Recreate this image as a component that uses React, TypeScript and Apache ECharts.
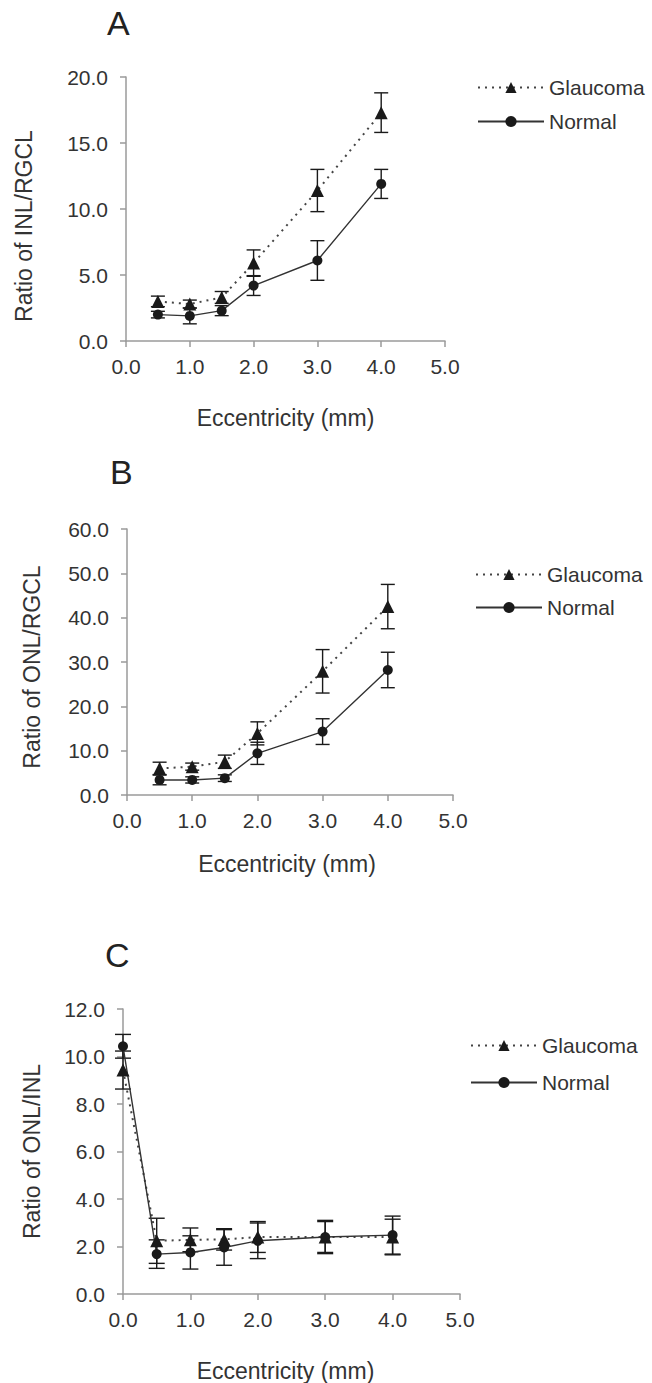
import React, { useEffect, useRef } from "react";
import * as echarts from "echarts";

// ---------- data ----------
const eccAB = [0.5, 1, 1.5, 2, 3, 4];
const eccC = [0, 0.5, 1, 1.5, 2, 3, 4];

const glaucomaA = [3.0, 2.8, 3.3, 5.9, 11.4, 17.3];
const glaucomaErrA = [0.4, 0.3, 0.45, 1.0, 1.6, 1.5];
const normalA = [2.0, 1.9, 2.3, 4.2, 6.1, 11.9];
const normalErrA = [0.25, 0.6, 0.38, 0.75, 1.5, 1.1];

const glaucomaB = [6.0, 6.4, 7.5, 13.9, 27.9, 42.5];
const glaucomaErrB = [1.4, 0.8, 1.5, 2.6, 4.9, 5.0];
const normalB = [3.4, 3.4, 3.8, 9.4, 14.3, 28.2];
const normalErrB = [1.1, 0.7, 0.75, 2.5, 2.9, 4.0];

const glaucomaC = [9.43, 2.24, 2.28, 2.3, 2.4, 2.4, 2.4];
const glaucomaErrC = [0.8, 0.95, 0.5, 0.45, 0.65, 0.7, 0.75];
const normalC = [10.43, 1.68, 1.75, 1.96, 2.24, 2.4, 2.48];
const normalErrC = [0.5, 0.6, 0.7, 0.75, 0.75, 0.65, 0.8];

const panelLetters = ["A", "B", "C"];
const yTitles = ["Ratio of INL/RGCL", "Ratio of ONL/RGCL", "Ratio of ONL/INL"];
const xTitle = "Eccentricity (mm)";
const seriesNames = ["Glaucoma", "Normal"];
const yMaxes = [20, 60, 12];
const yIntervals = [5, 10, 2];
const xMax = 5;
const xInterval = 1;

// ---------- layout ----------
const grids = [
  { left: 126, top: 77, width: 319, height: 264 },
  { left: 127, top: 529, width: 326, height: 266 },
  { left: 123, top: 1009, width: 337, height: 286 },
];
const letterPos = [
  { left: 107, top: 6 },
  { left: 110, top: 455 },
  { left: 105, top: 938 },
];
const legendPos = [
  { left: 477, top: 77 },
  { left: 475, top: 564 },
  { left: 470, top: 1035 },
];
const legendGap = [13, 12, 16];
const yNameGap = [91, 84, 80];
const yNamePad = [
  [0, 34, 0, 0],
  [0, 10, 0, 0],
  [0, 0, 0, 0],
];
const xNameGap = [65, 57, 65];
const xNamePad = [
  [0, 0, 0, 0],
  [0, 6, 0, 0],
  [0, 12, 0, 0],
];
const capHalf = [7, 7, 8];

const FONT = "'Liberation Sans', Arial, sans-serif";
const TEXT = "#333";
const AXIS = "#9a9a9a";
const INK = "#1a1a1a";

const panels = [
  { x: eccAB, g: glaucomaA, ge: glaucomaErrA, n: normalA, ne: normalErrA },
  { x: eccAB, g: glaucomaB, ge: glaucomaErrB, n: normalB, ne: normalErrB },
  { x: eccC, g: glaucomaC, ge: glaucomaErrC, n: normalC, ne: normalErrC },
];

function errSeries(i: number, xs: number[], vals: number[], errs: number[]) {
  const half = capHalf[i];
  return {
    type: "custom",
    xAxisIndex: i,
    yAxisIndex: i,
    silent: true,
    z: 3,
    data: xs.map((x, j) => [x, vals[j] - errs[j], vals[j] + errs[j]]),
    encode: { x: 0, y: [1, 2] },
    renderItem: (_p: any, api: any) => {
      const x = api.value(0);
      const lo = api.coord([x, api.value(1)]);
      const hi = api.coord([x, api.value(2)]);
      const st = { stroke: INK, lineWidth: 1.4 };
      return {
        type: "group",
        children: [
          { type: "line", shape: { x1: hi[0], y1: hi[1], x2: lo[0], y2: lo[1] }, style: st },
          { type: "line", shape: { x1: hi[0] - half, y1: hi[1], x2: hi[0] + half, y2: hi[1] }, style: st },
          { type: "line", shape: { x1: lo[0] - half, y1: lo[1], x2: lo[0] + half, y2: lo[1] }, style: st },
        ],
      };
    },
  };
}

function buildOption() {
  const series: any[] = [];
  panels.forEach((p, i) => {
    series.push(errSeries(i, p.x, p.g, p.ge));
    series.push(errSeries(i, p.x, p.n, p.ne));
    series.push({
      name: seriesNames[0],
      type: "line",
      xAxisIndex: i,
      yAxisIndex: i,
      z: 4,
      data: p.x.map((x, j) => [x, p.g[j]]),
      symbol: "triangle",
      symbolSize: 13,
      itemStyle: { color: INK },
      lineStyle: { color: "#444", width: 2, type: [2, 5] },
    });
    series.push({
      name: seriesNames[1],
      type: "line",
      xAxisIndex: i,
      yAxisIndex: i,
      z: 4,
      data: p.x.map((x, j) => [x, p.n[j]]),
      symbol: "circle",
      symbolSize: 10,
      itemStyle: { color: INK },
      lineStyle: { color: "#333", width: 1.4, type: "solid" },
    });
  });

  return {
    animation: false,
    backgroundColor: "#fff",
    textStyle: { fontFamily: FONT },
    title: panelLetters.map((t, i) => ({
      text: t,
      left: letterPos[i].left,
      top: letterPos[i].top,
      padding: 0,
      textStyle: { fontSize: 34, fontWeight: "normal", color: "#222", fontFamily: FONT },
    })),
    legend: legendPos.map((lp, i) => ({
      data: seriesNames,
      orient: "vertical",
      left: lp.left,
      top: lp.top,
      padding: 0,
      itemWidth: 66,
      itemHeight: 14,
      itemGap: legendGap[i],
      selectedMode: false,
      textStyle: { fontSize: 21, color: TEXT, fontFamily: FONT, padding: [0, 0, 0, 0] },
    })),
    grid: grids.map((g) => ({ ...g, containLabel: false })),
    xAxis: grids.map((_, i) => ({
      type: "value",
      gridIndex: i,
      min: 0,
      max: xMax,
      interval: xInterval,
      name: xTitle,
      nameLocation: "middle",
      nameGap: xNameGap[i],
      nameTextStyle: { fontSize: 23, color: TEXT, fontFamily: FONT, padding: xNamePad[i] },
      axisLine: { onZero: false, lineStyle: { color: AXIS, width: 1.5 } },
      axisTick: { show: true, length: 6, lineStyle: { color: AXIS, width: 1.5 } },
      splitLine: { show: false },
      axisLabel: {
        fontSize: 21,
        color: TEXT,
        margin: 15,
        fontFamily: FONT,
        formatter: (v: number) => v.toFixed(1),
      },
    })),
    yAxis: grids.map((_, i) => ({
      type: "value",
      gridIndex: i,
      min: 0,
      max: yMaxes[i],
      interval: yIntervals[i],
      name: yTitles[i],
      nameLocation: "middle",
      nameRotate: 90,
      nameGap: yNameGap[i],
      nameTextStyle: { fontSize: 23, color: TEXT, fontFamily: FONT, padding: yNamePad[i] },
      axisLine: { show: true, onZero: false, lineStyle: { color: AXIS, width: 1.5 } },
      axisTick: { show: true, length: 6, lineStyle: { color: AXIS, width: 1.5 } },
      splitLine: { show: false },
      axisLabel: {
        fontSize: 21,
        color: TEXT,
        margin: 18,
        fontFamily: FONT,
        formatter: (v: number) => v.toFixed(1),
      },
    })),
    series,
  };
}

export default function App() {
  const ref = useRef<HTMLDivElement>(null);
  useEffect(() => {
    if (!ref.current) return;
    const chart = echarts.init(ref.current, undefined, { renderer: "svg" });
    chart.setOption(buildOption() as any);
    return () => chart.dispose();
  }, []);
  return (
    <div
      ref={ref}
      style={{ position: "absolute", left: 0, top: 0, width: 652, height: 1383, background: "#fff" }}
    />
  );
}
